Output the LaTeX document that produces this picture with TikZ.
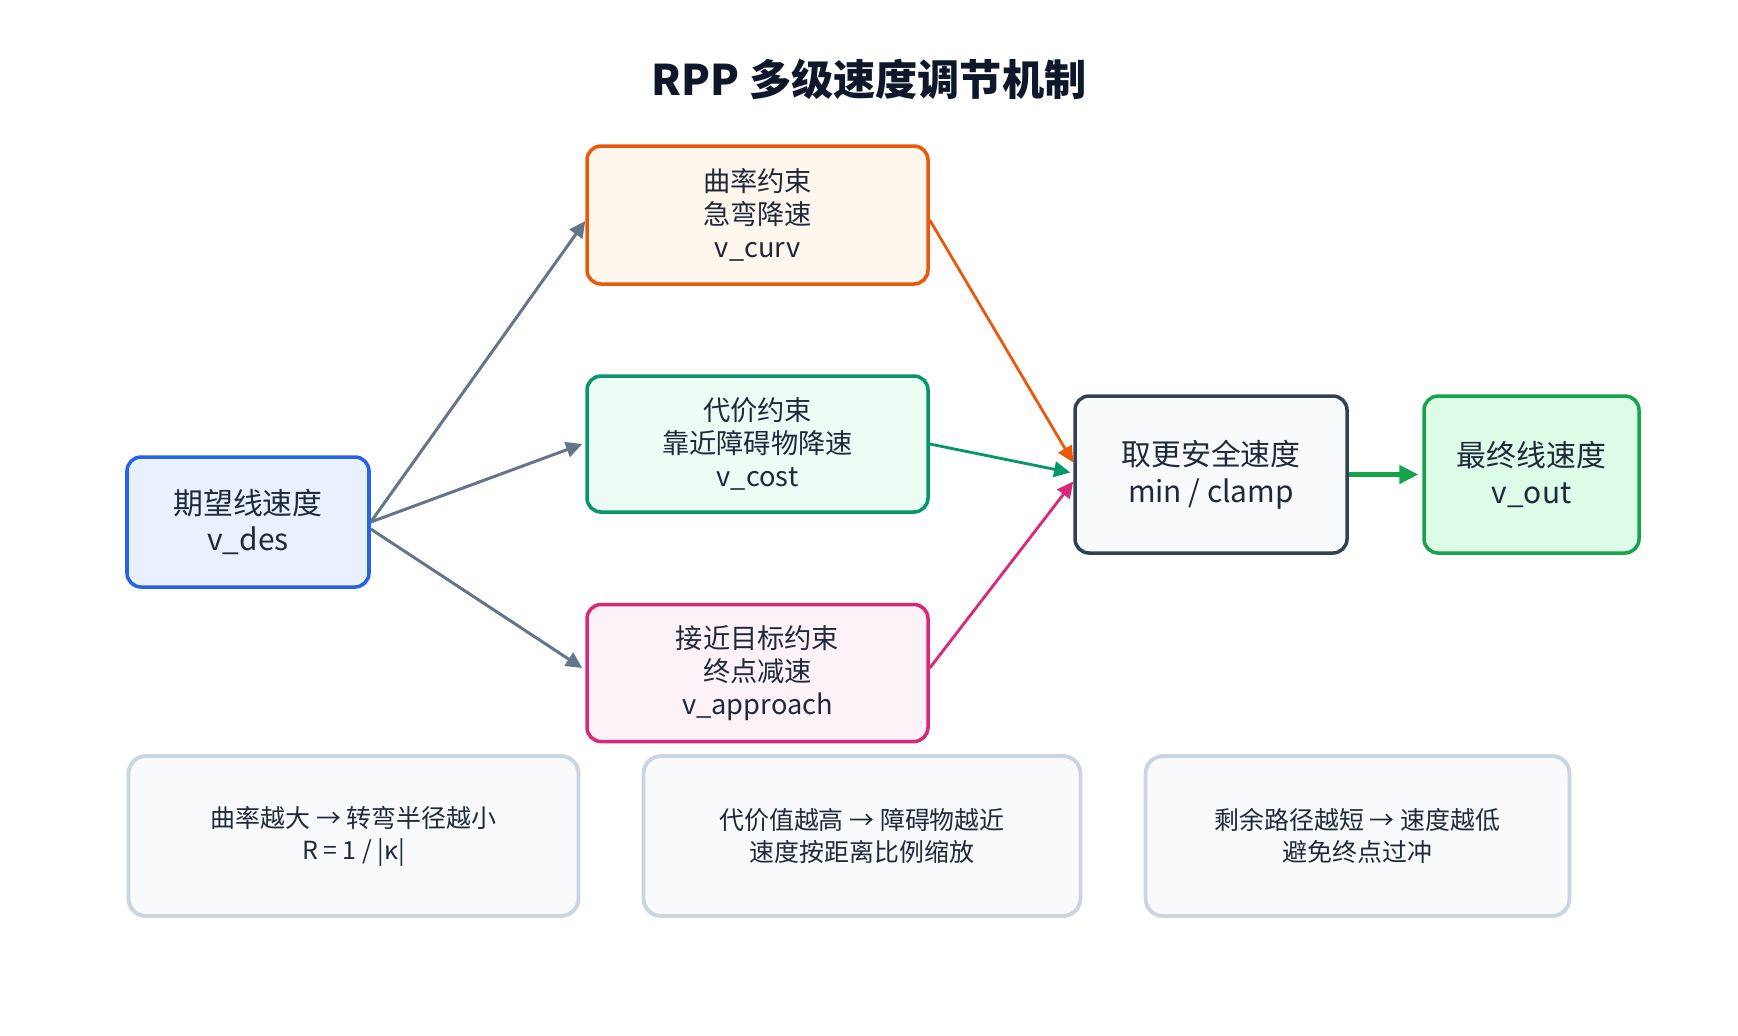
\documentclass[tikz,border=0pt]{standalone}
\usepackage{fontspec}
\setmainfont{Noto Sans CJK SC}
\usepackage{xcolor}
\usepackage{tikz}
\usetikzlibrary{arrows.meta,positioning}
\definecolor{inkdark}{HTML}{0F172A}
\definecolor{inktext}{HTML}{1E293B}
\definecolor{desblue}{HTML}{2563EB}
\definecolor{desfill}{HTML}{EAF1FE}
\definecolor{curvorange}{HTML}{EA580C}
\definecolor{curvfill}{HTML}{FFF7ED}
\definecolor{costgreen}{HTML}{059669}
\definecolor{costfill}{HTML}{ECFDF5}
\definecolor{apprpink}{HTML}{DB2777}
\definecolor{apprfill}{HTML}{FDF2F8}
\definecolor{safeslate}{HTML}{334155}
\definecolor{safefill}{HTML}{F8FAFC}
\definecolor{outgreen}{HTML}{16A34A}
\definecolor{outfill}{HTML}{DCFCE7}
\definecolor{notegray}{HTML}{CBD5E1}
\definecolor{arrgray}{HTML}{64748B}

\begin{document}
\begin{tikzpicture}[x=1cm,y=-1cm,
  box/.style={rounded corners=4pt,line width=1pt,align=center,text=inktext,inner sep=0pt},
  bigtxt/.style={font=\fontsize{8.5}{10.4}\selectfont},
  midtxt/.style={font=\fontsize{7.75}{9.3}\selectfont},
  notetxt/.style={font=\fontsize{7.1}{9.1}\selectfont},
  arr/.style={-{Triangle[length=4.6pt,width=4.4pt]},line width=0.85pt}]
\path[use as bounding box,fill=white] (0,0) rectangle (17.38,10.35);
\node[font=\fontsize{12}{14}\selectfont\bfseries,text=inkdark] (title) at (8.69,0.79) {RPP 多级速度调节机制};
% input and the three limits
\node[box,bigtxt,draw=desblue,fill=desfill,minimum width=2.42cm,minimum height=1.30cm] (des) at (2.48,5.22) {期望线速度\\v\_des};
\node[box,midtxt,draw=curvorange,fill=curvfill,minimum width=3.41cm,minimum height=1.38cm] (curv) at (7.575,2.15) {曲率约束\\急弯降速\\v\_curv};
\node[box,midtxt,draw=costgreen,fill=costfill,minimum width=3.41cm,minimum height=1.36cm] (cost) at (7.575,4.44) {代价约束\\靠近障碍物降速\\v\_cost};
\node[box,midtxt,draw=apprpink,fill=apprfill,minimum width=3.41cm,minimum height=1.37cm] (appr) at (7.575,6.73) {接近目标约束\\终点减速\\v\_approach};
\node[box,bigtxt,draw=safeslate,fill=safefill,minimum width=2.72cm,minimum height=1.57cm] (safe) at (12.11,4.745) {取更安全速度\\min / clamp};
\node[box,bigtxt,draw=outgreen,fill=outfill,minimum width=2.15cm,minimum height=1.57cm] (out) at (15.315,4.745) {最终线速度\\v\_out};
% notes
\foreach \n/\x/\w/\t in {1/3.535/4.50/{曲率越大 → 转弯半径越小\\R = 1 / |κ|},
                         2/8.62/4.37/{代价值越高 → 障碍物越近\\速度按距离比例缩放},
                         3/13.575/4.24/{剩余路径越短 → 速度越低\\避免终点过冲}}{
  \node[box,notetxt,draw=notegray,fill=safefill,line width=1.1pt,rounded corners=5pt,minimum width=\w cm,minimum height=1.6cm] (note\n) at (\x,8.36) {\t};}
\draw[arr,arrgray] (des.east) -- ([yshift=-0.06cm]curv.west);
\draw[arr,arrgray] (des.east) -- ([xshift=-0.03cm]cost.west);
\draw[arr,arrgray] ([yshift=-0.07cm]des.east) -- ([xshift=-0.03cm,yshift=0.05cm]appr.west);
\draw[arr,curvorange,line width=0.8pt] ([yshift=-0.05cm]curv.east) -- ([yshift=0.12cm]safe.west);
\draw[arr,costgreen,line width=0.8pt] (cost.east) -- ([xshift=-0.03cm,yshift=0.02cm]safe.west);
\draw[arr,apprpink,line width=0.8pt] ([yshift=0.05cm]appr.east) -- ([yshift=-0.07cm]safe.west);
\draw[-{Triangle[length=5.4pt,width=5.2pt]},outgreen,line width=1.2pt] (safe.east) -- ([xshift=-0.04cm]out.west);
\end{tikzpicture}
\end{document}
